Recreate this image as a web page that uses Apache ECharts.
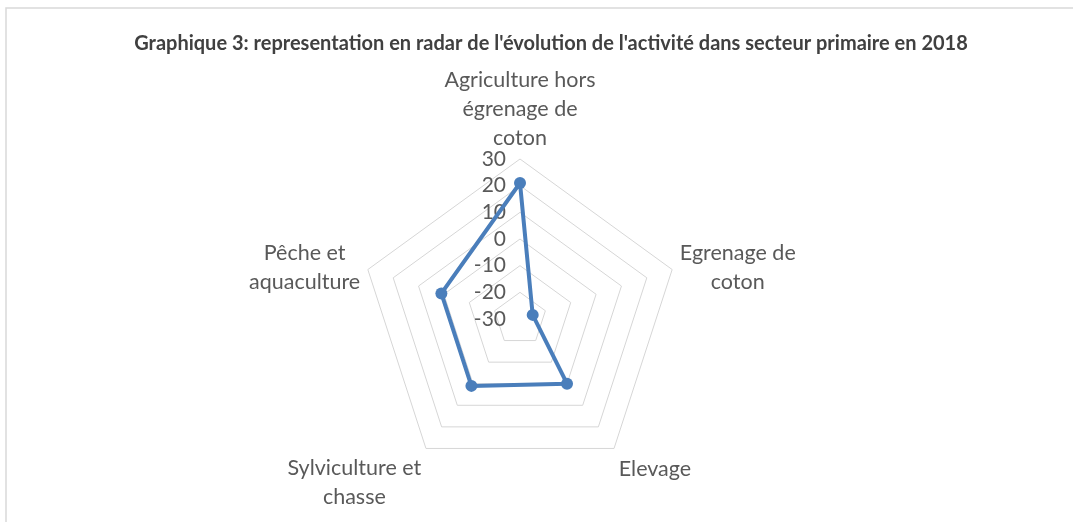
<!DOCTYPE html>
<html lang="fr">

<head>
  <meta charset="UTF-8" />
  <title>Radar secteur primaire 2018</title>
  <script src="https://cdn.jsdelivr.net/npm/echarts@6/dist/echarts.min.js"></script>
  <style>
    html, body { margin: 0; padding: 0; background: #fff; }
  </style>
</head>

<body>
  <div id="main" style="width:1073px;height:522px;"></div>
  <script type="text/javascript">
    // branches, dans l'ordre du graphique (sens horaire depuis le haut)
    const categories = [
      'Agriculture hors\négrenage de\ncoton',
      'Egrenage de\ncoton',
      'Elevage',
      'Sylviculture et\nchasse',
      'Pêche et\naquaculture'
    ]
    // évolution de l'activité (%)
    const values = [21, -25, 0, 1, 1]
    // graduations de l'axe
    const tickLabels = [-30, -20, -10, 0, 10, 20, 30]

    const axisMin = tickLabels[0]
    const axisMax = tickLabels[tickLabels.length - 1]

    // lignes vides ajoutées au-dessus des noms du bas, comme dans Excel
    const namePad = [0, 0, 1, 2, 0]

    // echarts place les branches dans le sens anti-horaire : on inverse l'ordre
    const order = [0].concat(categories.slice(1).map((c, i) => categories.length - 1 - i))

    const indicators = order.map(function (idx, k) {
      const ind = { name: categories[idx], min: axisMin, max: axisMax, pad: namePad[idx] }
      if (k === 0) {
        // seule la branche du haut porte les graduations
        ind.axisLabel = { show: true }
        ind.nameGap = 1
      }
      return ind
    })

    const myChart = echarts.init(document.getElementById('main'))

    const option = {
      animation: false,
      title: {
        text: "Graphique 3: representation en radar de l'évolution de l'activité dans secteur primaire en 2018",
        left: 546,
        top: 29,
        textAlign: 'center',
        textStyle: {
          fontFamily: 'Lato',
          fontWeight: 'bold',
          fontSize: 20,
          color: '#404040'
        }
      },
      // cadre du graphique
      graphic: [{
        type: 'rect',
        shape: { x: 6, y: 8, width: 1200, height: 600 },
        style: { fill: 'none', stroke: '#d9d9d9', lineWidth: 1.5 },
        silent: true
      }],
      radar: {
        center: [520, 319],
        radius: 160,
        startAngle: 90,
        splitNumber: tickLabels.length - 1,
        shape: 'polygon',
        indicator: indicators,
        axisName: {
          color: '#595959',
          fontFamily: 'Lato',
          fontSize: 21.5,
          formatter: function (name, ind) {
            let pad = ''
            for (let i = 0; i < (ind && ind.pad ? ind.pad : 0); i++) pad += '{p| }\n'
            return pad + '{n|' + name + '}'
          },
          rich: {
            n: {
              align: 'center',
              color: '#595959',
              fontFamily: 'Lato',
              fontSize: 21.5,
              lineHeight: 29
            },
            p: { fontSize: 10, lineHeight: 28 }
          }
        },
        nameGap: 8,
        axisLine: { show: false },
        axisTick: { show: false },
        axisLabel: {
          show: false,
          color: '#595959',
          fontFamily: 'Lato',
          fontSize: 21,
          margin: 14
        },
        splitLine: { lineStyle: { color: '#d6d6d6', width: 1 } },
        splitArea: { show: false }
      },
      series: [{
        type: 'radar',
        symbol: 'circle',
        symbolSize: 12,
        lineStyle: { color: '#4a7ebb', width: 4 },
        itemStyle: { color: '#4a7ebb' },
        data: [{ value: order.map(i => values[i]) }]
      }]
    }

    myChart.setOption(option)
  </script>
</body>

</html>
